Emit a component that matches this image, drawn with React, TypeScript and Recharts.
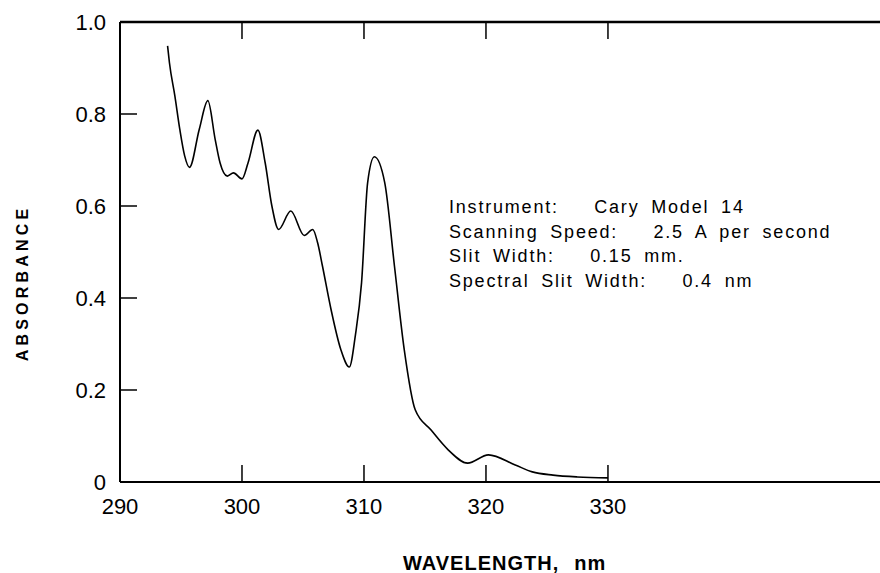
import React from 'react';
import { LineChart, Line, XAxis, YAxis } from 'recharts';

const wavelength = [293.9, 294.05, 294.5, 294.9, 295.3, 295.7, 296.5, 297.2, 297.8, 298.2, 298.8, 299.3, 300.0, 300.5, 301.3, 301.9, 302.45, 303.0, 304.0, 305.1, 305.8, 306.2, 306.6, 307.3, 308.1, 308.8, 309.3, 309.8, 310.3, 310.85, 311.7, 312.5, 313.3, 314.2, 315.5, 316.9, 318.5, 320.2, 322.4, 323.8, 325.5, 327.5, 330];
const absorbance = [0.948, 0.912, 0.839, 0.767, 0.709, 0.684, 0.767, 0.829, 0.745, 0.694, 0.665, 0.672, 0.659, 0.694, 0.765, 0.694, 0.6, 0.549, 0.589, 0.536, 0.549, 0.52, 0.469, 0.375, 0.288, 0.25, 0.32, 0.433, 0.651, 0.707, 0.651, 0.469, 0.288, 0.157, 0.113, 0.07, 0.041, 0.059, 0.037, 0.022, 0.015, 0.011, 0.009];
const xTicks = [290, 300, 310, 320, 330];
const yTicks = [0, 0.2, 0.4, 0.6, 0.8, 1.0];
const notes = [
  'Instrument:   Cary Model 14',
  'Scanning Speed:   2.5 A per second',
  'Slit Width:   0.15 mm.',
  'Spectral Slit Width:   0.4 nm',
];
const yTitle = 'ABSORBANCE';
const xTitle = 'WAVELENGTH,';
const xUnit = 'nm';

const data = wavelength.map((w, i) => ({ w, a: absorbance[i] }));

const FONT = '"Liberation Sans", Arial, Helvetica, sans-serif';
const NoTick = () => <g />;

export default function App() {
  return (
    <div style={{ position: 'absolute', left: 0, top: 0, width: 880, height: 573, background: '#fff', fontFamily: FONT }}>
      <LineChart width={880} height={573} data={data} margin={{ top: 21, right: 0, bottom: 0, left: 0 }}>
        <XAxis
          xAxisId="bottom"
          dataKey="w"
          type="number"
          domain={[290, 352.3]}
          allowDataOverflow
          ticks={xTicks}
          height={91}
          tickSize={-17}
          tickMargin={33}
          axisLine={{ stroke: '#000', strokeWidth: 2 }}
          tickLine={{ stroke: '#000', strokeWidth: 1.5 }}
          tick={{ fill: '#000', fontSize: 22, fontFamily: FONT }}
        />
        <XAxis
          xAxisId="top"
          orientation="top"
          dataKey="w"
          type="number"
          domain={[290, 352.3]}
          allowDataOverflow
          ticks={xTicks}
          height={1}
          tickSize={-17}
          axisLine={{ stroke: '#000', strokeWidth: 2.5 }}
          tickLine={{ stroke: '#000', strokeWidth: 1.5 }}
          tick={NoTick}
        />
        <YAxis
          dataKey="a"
          type="number"
          domain={[0, 1]}
          ticks={yTicks}
          width={120}
          tickSize={-17}
          tickMargin={31}
          tickFormatter={(v: number) => (v === 0 ? '0' : v.toFixed(1))}
          axisLine={{ stroke: '#000', strokeWidth: 2 }}
          tickLine={{ stroke: '#000', strokeWidth: 1.5 }}
          tick={{ fill: '#000', fontSize: 22, fontFamily: FONT }}
        />
        <Line
          xAxisId="bottom"
          dataKey="a"
          type="monotone"
          stroke="#000"
          strokeWidth={1.6}
          dot={false}
          isAnimationActive={false}
        />
      </LineChart>
      <div style={{ position: 'absolute', left: 449, top: 195, fontSize: 18, lineHeight: '24.5px', letterSpacing: 1.8, wordSpacing: 5, whiteSpace: 'pre', color: '#000' }}>
        {notes.map((n) => (
          <div key={n}>{n}</div>
        ))}
      </div>
      <div style={{ position: 'absolute', left: 23, top: 283, transform: 'translate(-50%, -50%) rotate(-90deg)', fontSize: 16, fontWeight: 'bold', letterSpacing: 4.2, whiteSpace: 'pre', color: '#000' }}>
        {yTitle}
      </div>
      <div style={{ position: 'absolute', left: 403, top: 563, transform: 'translate(0, -50%)', fontSize: 20, fontWeight: 'bold', letterSpacing: 1, whiteSpace: 'pre', color: '#000', lineHeight: '24px' }}>
        {xTitle}
        <span style={{ marginLeft: 15 }}>{xUnit}</span>
      </div>
    </div>
  );
}
